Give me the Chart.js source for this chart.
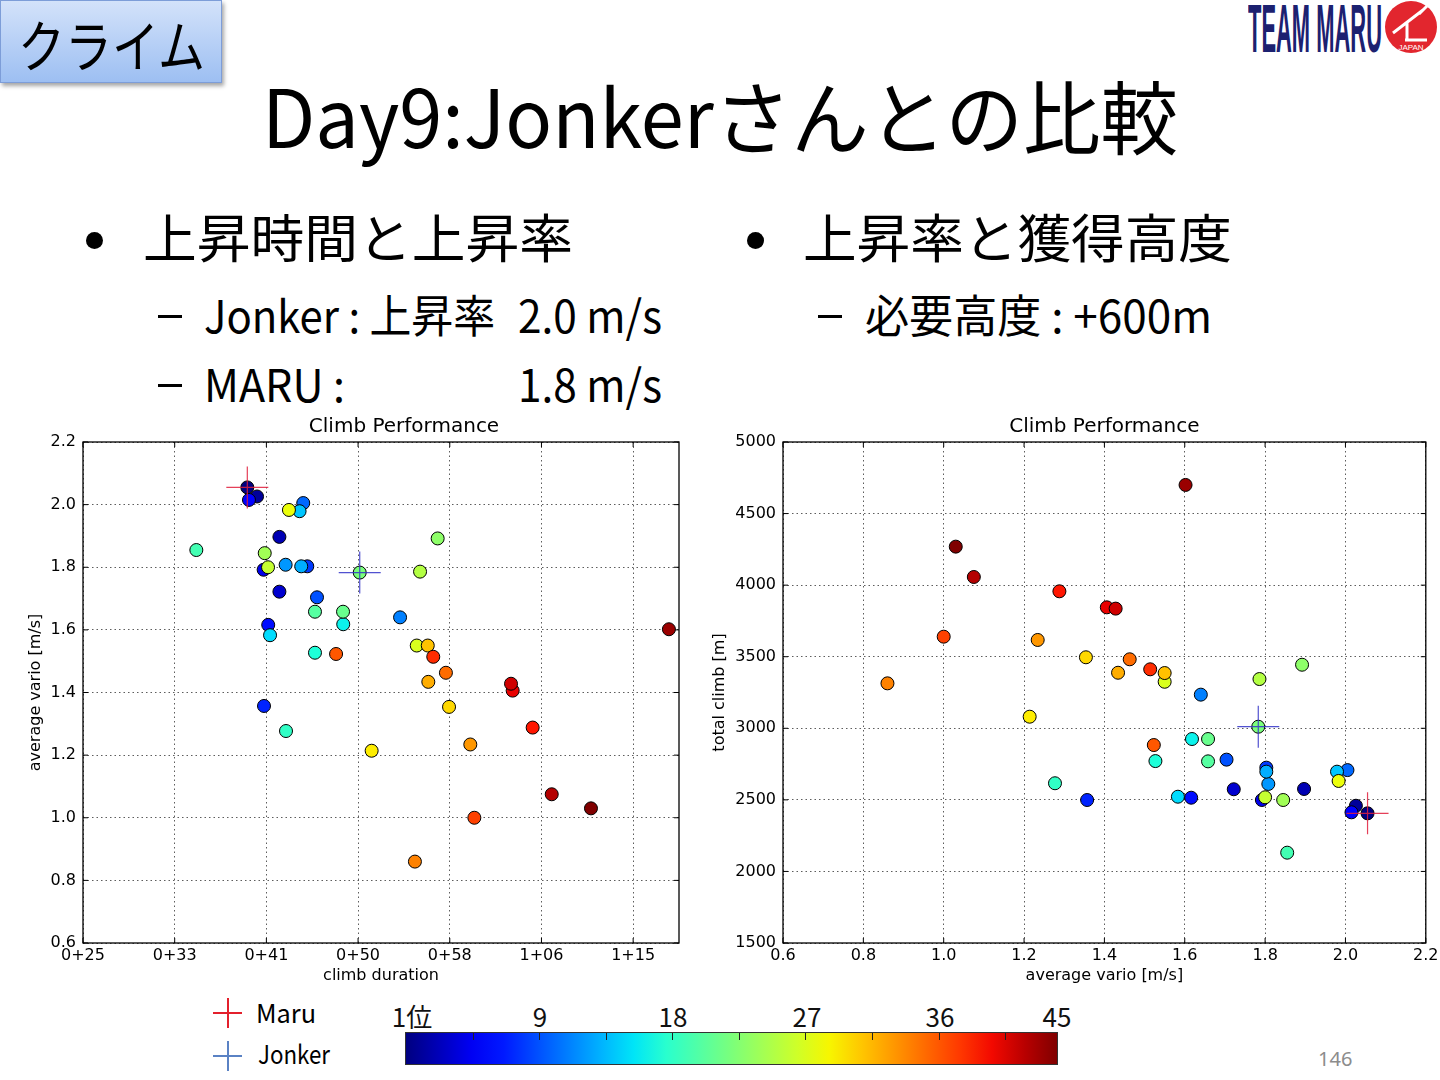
<!DOCTYPE html>
<html lang="ja">
<head>
<meta charset="UTF-8">
<title>Day9:Jonkerさんとの比較</title>
<script src="https://cdn.jsdelivr.net/npm/chart.js@4.4.1/dist/chart.umd.min.js"></script>
<style>
  body { margin: 0; background: #fff; }
  #slide { position: relative; width: 1440px; height: 1080px; overflow: hidden; background: #fff; }
  .t { position: absolute; white-space: nowrap; line-height: 1; transform-origin: left center;
       font-family: "Noto Sans CJK JP", "Noto Sans", sans-serif; color: #000; }
  .c { position: absolute; }
  #tagbox { position: absolute; left: 0; top: 0; width: 220px; height: 81px;
            background: linear-gradient(#d3e2fa, #9dbff2); border: 1px solid #7d9dd8;
            box-shadow: 2px 3px 4px rgba(0,0,0,0.35); }
  .dot { position: absolute; width: 17px; height: 17px; border-radius: 50%; background: #000; }
  .dash { position: absolute; width: 24px; height: 3px; background: #000; }
  #cbar { position: absolute; left: 405px; top: 1032px; width: 651px; height: 31px; border: 1px solid #333; }
  .cb { position: absolute; white-space: nowrap; line-height: 1; font-family: "Liberation Sans Narrow", "Noto Sans CJK JP", sans-serif;
        font-size: 26px; color: #111; transform: translateX(-50%); }
  .ln { position: absolute; }
</style>
</head>
<body>
<div id="slide">
  <div id="tagbox"></div>
  <div class="t" style="left:18px; top:15px; font-size:56px" data-w="187">クライム</div>

  <div class="t" style="left:1248px; top:-6px; font-size:68px; font-weight:bold; color:#1c2170; font-family:'Liberation Sans Narrow','Liberation Sans',sans-serif" data-w="134">TEAM MARU</div>
  <svg style="position:absolute; left:1383px; top:0" width="57" height="56">
    <circle cx="28" cy="27" r="26" fill="#e2262e"/>
    <path d="M10 33 L40 10 M24 22 L24 40 M22 40 L44 40 M36 14 L44 6" stroke="#fff" stroke-width="3" fill="none"/>
    <text x="28" y="50" font-size="8" fill="#fff" text-anchor="middle" font-family="Liberation Sans">JAPAN</text>
  </svg>

  <div class="t" style="left:262px; top:73px; font-size:80px" data-w="916">Day9:Jonkerさんとの比較</div>

  <div class="dot" style="left:86px; top:232px"></div>
  <div class="t" style="left:143px; top:210px; font-size:52px" data-w="430">上昇時間と上昇率</div>
  <div class="dash" style="left:158px; top:315px"></div>
  <div class="t" style="left:204px; top:291px; font-size:45px" data-w="291">Jonker : 上昇率</div>
  <div class="t" style="left:518px; top:291px; font-size:45px" data-w="144">2.0 m/s</div>
  <div class="dash" style="left:158px; top:384px"></div>
  <div class="t" style="left:204px; top:360px; font-size:45px" data-w="141">MARU :</div>
  <div class="t" style="left:518px; top:360px; font-size:45px" data-w="144">1.8 m/s</div>

  <div class="dot" style="left:747px; top:232px"></div>
  <div class="t" style="left:803px; top:210px; font-size:52px" data-w="429">上昇率と獲得高度</div>
  <div class="dash" style="left:818px; top:315px"></div>
  <div class="t" style="left:865px; top:291px; font-size:45px" data-w="347">必要高度 : +600m</div>

  <canvas id="c1" class="c" width="764" height="577" style="left:22px; top:412px"></canvas>
  <canvas id="c2" class="c" width="742" height="577" style="left:706px; top:412px"></canvas>

  <div class="ln" style="left:213px; top:1012px; width:29px; height:2px; background:#e3202c"></div>
  <div class="ln" style="left:227px; top:998px; width:2px; height:30px; background:#e3202c"></div>
  <div class="t" style="left:256px; top:999px; font-size:26px" data-w="60">Maru</div>
  <div class="ln" style="left:213px; top:1055px; width:29px; height:2px; background:#5a82c4"></div>
  <div class="ln" style="left:227px; top:1041px; width:2px; height:30px; background:#5a82c4"></div>
  <div class="t" style="left:258px; top:1040px; font-size:26px" data-w="72">Jonker</div>

  <div id="cbar"></div>
  <div class="cb" style="left:412px; top:1003px">1位</div>
  <div class="cb" style="left:540px; top:1003px">9</div>
  <div class="cb" style="left:673px; top:1003px">18</div>
  <div class="cb" style="left:807px; top:1003px">27</div>
  <div class="cb" style="left:940px; top:1003px">36</div>
  <div class="cb" style="left:1057px; top:1003px">45</div>

  <div class="t" style="left:1318px; top:1049px; font-size:20px; color:#8c8c8c; font-family:'Noto Sans',sans-serif">146</div>
</div>

<script>
// pilots of the day, colour = day rank
var ranks = [1,2,3,4,5,6,7,8,9,10,11,12,13,14,15,16,17,18,19,20,21,22,23,24,25,26,27,28,29,30,
             31,32,33,34,35,36,37,38,39,40,41,42,43,44,45];
// climb duration in seconds
var durations = [2396,2449,2571,2571,2485,2405,2510,2487,2723,2776,2701,3229,2605,2690,2681,
                 2520,2919,2765,2607,2118,2765,2918,3009,3434,2491,3338,2509,3320,2623,3074,
                 3496,3380,3383,3612,3310,3479,2880,3634,3410,3952,3843,3834,4056,4695,4270];
// average vario m/s
var varios = [2.055,2.026,1.897,1.722,1.792,2.015,1.616,1.357,1.803,1.704,2.005,1.640,1.808,1.803,1.979,
              1.583,1.618,1.527,1.277,1.855,1.658,1.658,1.783,1.892,1.845,1.786,1.800,1.550,1.983,1.214,
              1.354,1.550,1.434,1.234,0.860,1.463,1.523,1.000,1.514,1.288,1.406,1.428,1.075,1.602,1.030];
// total climb m
var climbs = [2406,2459,2576,2574,2499,2413,2515,2499,2725,2781,2708,3235,2611,2697,2697,
              2522,2925,2771,2616,2131,2769,2925,3011,3444,2499,3344,2518,3325,2632,3081,
              3496,3386,3388,3617,3314,3482,2883,3640,3412,3957,3845,3836,4057,4700,4269];
var maruIdx = 0;
var jonkerIdx = 22;

var durTicks = [1500,2000,2500,3000,3500,4000,4500];
var durTickLabels = ['0+25','0+33','0+41','0+50','0+58','1+06','1+15'];
var varioTicks = [0.6,0.8,1.0,1.2,1.4,1.6,1.8,2.0,2.2];
var climbTicks = [1500,2000,2500,3000,3500,4000,4500,5000];

// matplotlib jet
function interp(t, pts){
    for (var k = 1; k < pts.length; k++){
        if (t <= pts[k][0]){
            var a = pts[k-1], b = pts[k];
            return a[1] + (b[1]-a[1]) * (t-a[0]) / (b[0]-a[0]);
        }
    }
    return pts[pts.length-1][1];
}
function jet(t){
    var r = interp(t, [[0,0],[0.35,0],[0.66,1],[0.89,1],[1,0.5]]);
    var g = interp(t, [[0,0],[0.125,0],[0.375,1],[0.64,1],[0.91,0],[1,0]]);
    var b = interp(t, [[0,0.5],[0.11,1],[0.34,1],[0.65,0],[1,0]]);
    return 'rgb(' + Math.round(r*255) + ',' + Math.round(g*255) + ',' + Math.round(b*255) + ')';
}
var pointColors = ranks.map(function(r){ return jet((r-1)/44); });

// colour bar
var stops = [];
for (var s = 0; s <= 20; s++) stops.push(jet(s/20) + ' ' + (s*5) + '%');
var cbar = document.getElementById('cbar');
cbar.style.background = 'linear-gradient(to right,' + stops.join(',') + ')';
for (var k = 1; k < 10; k++){
    var tk = document.createElement('div');
    tk.style.cssText = 'position:absolute;top:0;width:1px;height:7px;background:#222;left:' + (k*4.5/44*651) + 'px';
    cbar.appendChild(tk);
}

// fit slide texts to their widths
document.querySelectorAll('.t[data-w]').forEach(function(el){
    var w = el.getBoundingClientRect().width;
    el.style.transform = 'scaleX(' + (Number(el.dataset.w) / w) + ')';
});

var tickFont = {family: 'DejaVu Sans', size: 16};

var framePlugin = {
    id: 'frame',
    beforeDatasetsDraw: function(chart){
        var ctx = chart.ctx, a = chart.chartArea, sx = chart.scales.x, sy = chart.scales.y;
        ctx.save();
        ctx.strokeStyle = '#000';
        ctx.lineWidth = 1.3;
        ctx.strokeRect(a.left, a.top, a.right - a.left, a.bottom - a.top);
        ctx.lineWidth = 1;
        ctx.beginPath();
        sx.ticks.forEach(function(t){
            var p = sx.getPixelForValue(t.value);
            ctx.moveTo(p, a.bottom); ctx.lineTo(p, a.bottom - 5);
            ctx.moveTo(p, a.top); ctx.lineTo(p, a.top + 5);
        });
        sy.ticks.forEach(function(t){
            var p = sy.getPixelForValue(t.value);
            ctx.moveTo(a.left, p); ctx.lineTo(a.left + 5, p);
            ctx.moveTo(a.right, p); ctx.lineTo(a.right - 5, p);
        });
        ctx.stroke();
        ctx.restore();
    }
};

function axis(min, max, tickVals, labelFn, title, fitFn, pad){
    return {
        type: 'linear', min: min, max: max,
        afterBuildTicks: function(s){ s.ticks = tickVals.map(function(v){ return {value: v}; }); },
        afterFit: fitFn,
        ticks: {callback: labelFn, font: tickFont, color: '#000', padding: pad, maxRotation: 0, autoSkip: false},
        grid: {color: '#333', lineWidth: 0.8, drawTicks: false},
        border: {display: false, dash: [1.5, 3]},
        title: {display: true, text: title, font: tickFont, color: '#000', padding: {top: 4, bottom: 4}}
    };
}

// empty right-hand spacer so the full-width title sits where the original one does
function spacer(w){
    return {position: 'right', min: 0, max: 1, grid: {display: false}, border: {display: false},
            ticks: {display: false}, afterFit: function(s){ s.width = w; }};
}

function datasets(xs, ys){
    return [
        {label: 'Maru', data: [{x: xs[maruIdx], y: ys[maruIdx]}], pointStyle: 'cross', pointRadius: 21,
         borderColor: 'rgba(225,30,60,0.85)', borderWidth: 1.2, order: 0},
        {label: 'Jonker', data: [{x: xs[jonkerIdx], y: ys[jonkerIdx]}], pointStyle: 'cross', pointRadius: 21,
         borderColor: 'rgba(50,50,200,0.85)', borderWidth: 1.2, order: 0},
        {label: 'pilots', data: xs.map(function(v, i){ return {x: v, y: ys[i]}; }),
         pointBackgroundColor: pointColors, pointBorderColor: '#000', pointBorderWidth: 1, pointRadius: 6.5, order: 1}
    ];
}

function titleOpts(full){
    return {display: true, text: 'Climb Performance', fullSize: full, color: '#000',
            font: {family: 'DejaVu Sans', size: 20, weight: 'normal'}, padding: {top: 3, bottom: 3}};
}

new Chart(document.getElementById('c1'), {
    type: 'scatter',
    data: {datasets: datasets(durations, varios)},
    options: {
        responsive: false, animation: false, devicePixelRatio: 1,
        plugins: {legend: {display: false}, tooltip: {enabled: false}, title: titleOpts(true)},
        scales: {
            x: axis(1500, 4750, durTicks, function(v, i){ return durTickLabels[i]; }, 'climb duration',
                    function(s){ s.height = 46; }, 3),
            y: axis(0.6, 2.2, varioTicks, function(v){ return v.toFixed(1); }, 'average vario [m/s]',
                    function(s){ s.width = 61; }, 7),
            pad: spacer(107)
        }
    },
    plugins: [framePlugin]
});

new Chart(document.getElementById('c2'), {
    type: 'scatter',
    data: {datasets: datasets(varios, climbs)},
    options: {
        responsive: false, animation: false, devicePixelRatio: 1,
        plugins: {legend: {display: false}, tooltip: {enabled: false}, title: titleOpts(false)},
        scales: {
            x: axis(0.6, 2.2, varioTicks, function(v){ return v.toFixed(1); }, 'average vario [m/s]',
                    function(s){ s.height = 46; }, 3),
            y: axis(1500, 5000, climbTicks, function(v){ return String(v); }, 'total climb [m]',
                    function(s){ s.width = 77; }, 7)
        }
    },
    plugins: [framePlugin]
});
</script>
</body>
</html>
